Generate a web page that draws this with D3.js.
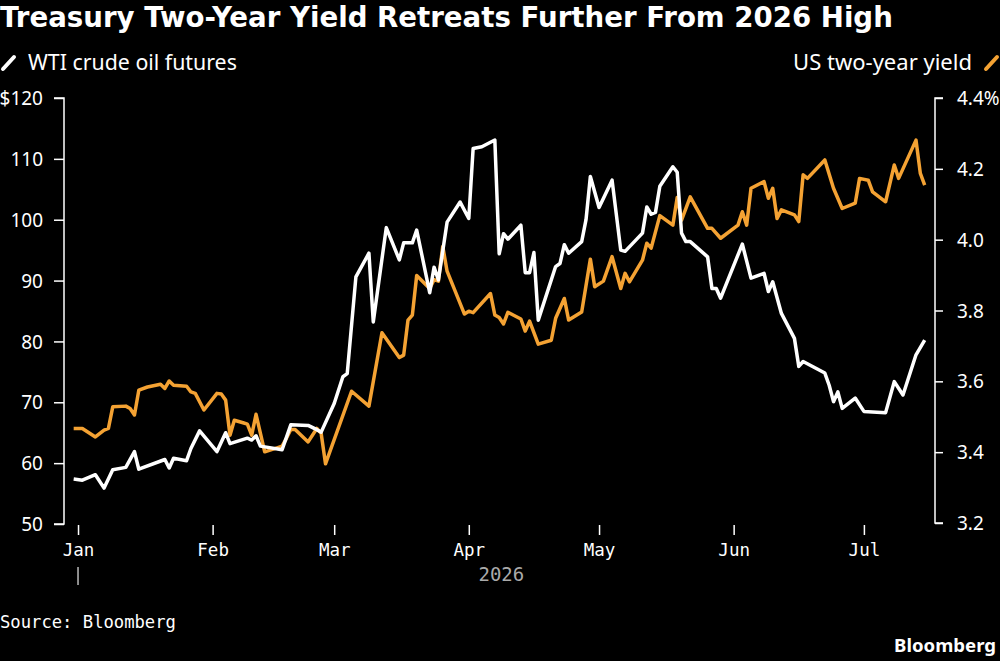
<!DOCTYPE html>
<html>
<head>
<meta charset="utf-8">
<script src="https://cdn.jsdelivr.net/npm/d3@7"></script>
<style>
  html, body { margin: 0; padding: 0; background: #000; }
  svg { display: block; }
</style>
</head>
<body>
<svg id="chart" width="1000" height="661"></svg>
<script>
// ---------------- data ----------------
const oilDates = ["2025-12-31","2026-01-02","2026-01-05","2026-01-07","2026-01-09","2026-01-12","2026-01-14","2026-01-15","2026-01-21","2026-01-22","2026-01-23","2026-01-26","2026-01-27","2026-01-29","2026-02-02","2026-02-04","2026-02-05","2026-02-09","2026-02-10","2026-02-11","2026-02-12","2026-02-17","2026-02-19","2026-02-23","2026-02-25","2026-02-26","2026-03-01","2026-03-03","2026-03-04","2026-03-06","2026-03-09","2026-03-10","2026-03-13","2026-03-16","2026-03-17","2026-03-19","2026-03-20","2026-03-23","2026-03-24","2026-03-25","2026-03-27","2026-03-30","2026-04-01","2026-04-02","2026-04-04","2026-04-07","2026-04-08","2026-04-09","2026-04-10","2026-04-13","2026-04-14","2026-04-15","2026-04-16","2026-04-17","2026-04-21","2026-04-22","2026-04-23","2026-04-24","2026-04-27","2026-04-28","2026-04-29","2026-05-01","2026-05-04","2026-05-06","2026-05-07","2026-05-11","2026-05-12","2026-05-13","2026-05-14","2026-05-15","2026-05-18","2026-05-19","2026-05-20","2026-05-21","2026-05-22","2026-05-26","2026-05-27","2026-05-28","2026-05-29","2026-06-03","2026-06-05","2026-06-08","2026-06-09","2026-06-10","2026-06-12","2026-06-15","2026-06-16","2026-06-17","2026-06-22","2026-06-23","2026-06-24","2026-06-25","2026-06-26","2026-06-29","2026-07-01","2026-07-06","2026-07-08","2026-07-10","2026-07-13","2026-07-15"];
const oilValues = [57.4,57.2,58.1,55.9,58.9,59.3,61.9,59.0,60.6,59.2,60.8,60.4,62.4,65.3,61.9,65.0,63.2,64.1,63.8,64.5,62.8,62.2,66.3,66.2,65.5,65.1,69.8,74.2,74.7,90.6,94.5,83.2,98.7,93.4,96.2,96.2,98.3,88.0,92.2,90.1,99.6,102.9,100.2,111.7,112.0,113.1,94.4,97.7,96.8,99.1,91.3,91.3,94.6,83.5,92.3,92.8,95.9,94.5,96.4,100.0,107.1,102.0,106.5,95.0,94.8,97.8,102.1,100.9,101.2,105.5,108.7,107.8,97.8,96.4,96.4,93.9,88.7,88.7,87.1,96.0,90.4,91.2,88.2,89.8,84.6,80.5,75.9,76.7,74.8,72.8,70.1,71.7,69.0,70.7,68.5,68.3,73.4,71.2,77.8,80.2];

const yieldDates = ["2025-12-31","2026-01-02","2026-01-05","2026-01-07","2026-01-08","2026-01-09","2026-01-12","2026-01-13","2026-01-14","2026-01-15","2026-01-17","2026-01-20","2026-01-21","2026-01-22","2026-01-23","2026-01-26","2026-01-27","2026-01-28","2026-01-30","2026-02-02","2026-02-03","2026-02-04","2026-02-05","2026-02-06","2026-02-08","2026-02-09","2026-02-10","2026-02-11","2026-02-13","2026-02-16","2026-02-17","2026-02-18","2026-02-19","2026-02-20","2026-02-23","2026-02-25","2026-02-26","2026-02-27","2026-03-05","2026-03-09","2026-03-12","2026-03-16","2026-03-17","2026-03-18","2026-03-19","2026-03-20","2026-03-23","2026-03-24","2026-03-25","2026-03-26","2026-03-27","2026-03-31","2026-04-01","2026-04-02","2026-04-06","2026-04-07","2026-04-08","2026-04-09","2026-04-10","2026-04-13","2026-04-14","2026-04-15","2026-04-17","2026-04-20","2026-04-21","2026-04-23","2026-04-24","2026-04-27","2026-04-29","2026-04-30","2026-05-02","2026-05-04","2026-05-06","2026-05-07","2026-05-08","2026-05-11","2026-05-12","2026-05-13","2026-05-15","2026-05-18","2026-05-19","2026-05-20","2026-05-22","2026-05-26","2026-05-27","2026-05-29","2026-06-02","2026-06-03","2026-06-04","2026-06-05","2026-06-08","2026-06-09","2026-06-10","2026-06-11","2026-06-12","2026-06-15","2026-06-16","2026-06-17","2026-06-18","2026-06-22","2026-06-24","2026-06-26","2026-06-29","2026-06-30","2026-07-02","2026-07-03","2026-07-06","2026-07-08","2026-07-09","2026-07-13","2026-07-14","2026-07-15"];
const yieldValues = [3.467,3.467,3.443,3.462,3.467,3.528,3.530,3.523,3.505,3.575,3.584,3.592,3.580,3.601,3.589,3.586,3.570,3.566,3.519,3.566,3.564,3.547,3.448,3.490,3.483,3.479,3.448,3.507,3.401,3.413,3.417,3.439,3.464,3.464,3.429,3.467,3.453,3.367,3.572,3.530,3.737,3.667,3.674,3.773,3.787,3.899,3.862,3.887,3.883,3.981,3.911,3.790,3.798,3.794,3.848,3.787,3.780,3.762,3.795,3.776,3.742,3.770,3.705,3.716,3.778,3.834,3.773,3.796,3.945,3.867,3.883,3.952,3.862,3.905,3.881,3.942,3.990,3.976,4.068,4.041,4.119,4.055,4.121,4.032,4.032,4.004,4.041,4.079,4.041,4.145,4.164,4.117,4.145,4.060,4.084,4.070,4.051,4.183,4.173,4.225,4.145,4.088,4.103,4.173,4.168,4.135,4.107,4.211,4.173,4.281,4.187,4.154];

const monthTicks = ["2026-01-01","2026-02-01","2026-03-01","2026-04-01","2026-05-01","2026-06-01","2026-07-01"];
const monthLabels = ["Jan","Feb","Mar","Apr","May","Jun","Jul"];
const oilTicks = [50,60,70,80,90,100,110,120];
const yieldTicks = [3.2,3.4,3.6,3.8,4.0,4.2,4.4];
const xDomain = ["2025-12-28T18:30","2026-07-17T09:00"];

const titleText = "Treasury Two-Year Yield Retreats Further From 2026 High";
const legendOil = "WTI crude oil futures";
const legendYield = "US two-year yield";
const yearLabel = "2026";
const sourceText = "Source: Bloomberg";
const brandText = "Bloomberg";

// ---------------- setup ----------------
const parseD = d3.utcParse("%Y-%m-%d");
const parseDT = d3.utcParse("%Y-%m-%dT%H:%M");
const W = 1000, H = 661;
const plotL = 64, plotR = 935, plotT = 98, plotB = 524;
const ORANGE = "#f4a233";
const sans = "'Noto Sans', 'Open Sans', sans-serif";
const mono = "'DejaVu Sans Mono', monospace";

const svg = d3.select("#chart");
svg.append("rect").attr("width", W).attr("height", H).attr("fill", "#000");

const x = d3.scaleUtc().domain(xDomain.map(parseDT)).range([plotL, plotR]);
const yL = d3.scaleLinear().domain([50, 120]).range([plotB, plotT]);
const yR = d3.scaleLinear().domain([3.2, 4.4]).range([plotB - 1, plotT]);

function fitWidth(sel, target) {
  const node = sel.node();
  const fs = parseFloat(sel.attr("font-size"));
  const w = node.getComputedTextLength();
  if (w > 0) sel.attr("font-size", fs * target / w);
}

// title
const title = svg.append("text").attr("x", 0).attr("y", 27)
  .attr("fill", "#fff").attr("font-family", "'DejaVu Sans', sans-serif")
  .attr("font-weight", "bold").attr("font-size", 25).text(titleText);
fitWidth(title, 893);

// legend
svg.append("line").attr("x1", 3).attr("y1", 69).attr("x2", 14).attr("y2", 57)
  .attr("stroke", "#fff").attr("stroke-width", 4).attr("stroke-linecap", "round");
const lo = svg.append("text").attr("x", 28).attr("y", 70).attr("fill", "#fff")
  .attr("font-family", sans).attr("font-size", 19).text(legendOil);
fitWidth(lo, 209);
svg.append("line").attr("x1", 986).attr("y1", 69).attr("x2", 997).attr("y2", 57)
  .attr("stroke", ORANGE).attr("stroke-width", 4).attr("stroke-linecap", "round");
const ly = svg.append("text").attr("x", 972).attr("y", 70).attr("fill", "#fff")
  .attr("text-anchor", "end").attr("font-family", sans).attr("font-size", 19).text(legendYield);
fitWidth(ly, 179);

// left axis
const axL = svg.append("g").attr("transform", `translate(${plotL},0)`)
  .call(d3.axisLeft(yL).tickValues(oilTicks).tickSize(10).tickPadding(11)
    .tickFormat(d => d === 120 ? "$" + d : d));
axL.select(".domain").attr("stroke", "#fff").attr("stroke-width", 1.5)
  .attr("d", `M-10,${yL(120)}H0V${yL(50)}H-10`);
axL.selectAll(".tick line").attr("stroke", "#fff").attr("stroke-width", 1.5);
axL.selectAll(".tick text").attr("fill", "#fff").attr("font-family", sans)
  .attr("font-size", 19).attr("dy", "0.35em");

// right axis
const axR = svg.append("g").attr("transform", `translate(${plotR},0)`)
  .call(d3.axisRight(yR).tickValues(yieldTicks).tickSize(8).tickPadding(14)
    .tickFormat(d => d === 4.4 ? d.toFixed(1) + "%" : d.toFixed(1)));
axR.select(".domain").attr("stroke", "#fff").attr("stroke-width", 1.5)
  .attr("d", `M8,${yR(4.4)}H0V${yR(3.2)}H8`);
axR.selectAll(".tick line").attr("stroke", "#fff").attr("stroke-width", 1.5);
axR.selectAll(".tick text").attr("fill", "#fff").attr("font-family", sans)
  .attr("font-size", 19).attr("dy", "0.35em");

// x axis
const axX = svg.append("g").attr("transform", `translate(0,525)`)
  .call(d3.axisBottom(x).tickValues(monthTicks.map(parseD)).tickSize(10).tickPadding(9)
    .tickFormat((d, i) => monthLabels[i]));
axX.select(".domain").remove();
axX.selectAll(".tick line").attr("stroke", "#fff").attr("stroke-width", 1.5);
axX.selectAll(".tick text").attr("fill", "#fff").attr("font-family", mono)
  .attr("font-size", 17.5);

// year marker
const jan = x(parseD(monthTicks[0]));
svg.append("line").attr("x1", jan).attr("x2", jan).attr("y1", 567).attr("y2", 585)
  .attr("stroke", "#bbb").attr("stroke-width", 1.5);
svg.append("text").attr("x", x(parseDT("2026-04-08T12:00"))).attr("y", 581)
  .attr("text-anchor", "middle").attr("fill", "#aaa").attr("font-family", mono)
  .attr("font-size", 19).text(yearLabel);

// lines
const oilData = oilDates.map((d, i) => ({ date: parseD(d), value: oilValues[i] }));
const yieldData = yieldDates.map((d, i) => ({ date: parseD(d), value: yieldValues[i] }));

svg.append("path").datum(yieldData)
  .attr("fill", "none").attr("stroke", ORANGE).attr("stroke-width", 3.5)
  .attr("stroke-linejoin", "round")
  .attr("d", d3.line().x(d => x(d.date)).y(d => yR(d.value)));

svg.append("path").datum(oilData)
  .attr("fill", "none").attr("stroke", "#fff").attr("stroke-width", 3.5)
  .attr("stroke-linejoin", "round")
  .attr("d", d3.line().x(d => x(d.date)).y(d => yL(d.value)));

// footer
const src = svg.append("text").attr("x", 0).attr("y", 628).attr("fill", "#fff")
  .attr("font-family", mono).attr("font-size", 17).text(sourceText);
fitWidth(src, 176);
const br = svg.append("text").attr("x", 996).attr("y", 652).attr("text-anchor", "end")
  .attr("fill", "#fff").attr("font-family", sans).attr("font-weight", "bold")
  .attr("font-size", 18).text(brandText);
fitWidth(br, 102);
</script>
</body>
</html>
